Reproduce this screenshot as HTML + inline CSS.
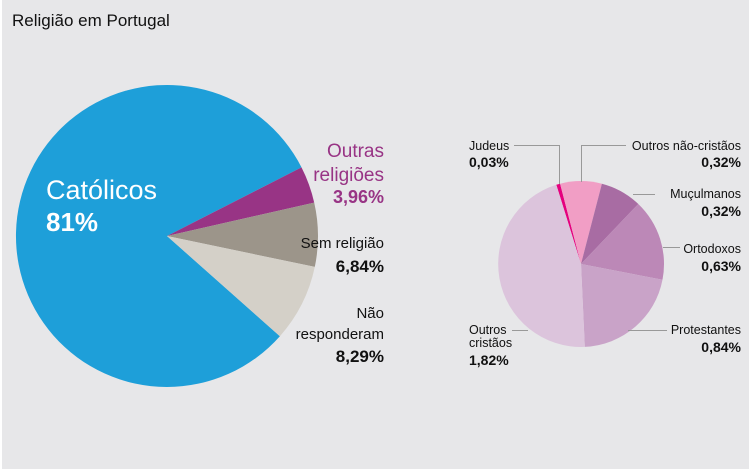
<!DOCTYPE html>
<html><head><meta charset="utf-8"><style>
html,body{margin:0;padding:0;background:#e8e8ea;}
svg{display:block;font-family:"Liberation Sans",sans-serif;}
</style></head><body>
<svg width="749" height="469" viewBox="0 0 749 469" xmlns="http://www.w3.org/2000/svg">
<rect width="749" height="469" fill="#e7e7e9"/>
<rect x="0" y="0" width="2" height="469" fill="#fff"/>
<text x="12" y="26" font-size="17" fill="#111">Religião em Portugal</text>

<g>
<path d="M167,236 L301.5,167.4 A151,151 0 1,0 279.9,336.2 Z" fill="#1e9fd9"/>
<path d="M167,236 L301.5,167.4 A151,151 0 0,1 314.2,202.6 Z" fill="#983485"/>
<path d="M167,236 L314.2,202.6 A151,151 0 0,1 314.8,266.9 Z" fill="#9c958a"/>
<path d="M167,236 L314.8,266.9 A151,151 0 0,1 279.9,336.2 Z" fill="#d4d0c8"/>
</g>
<text x="46" y="199" font-size="27" fill="#fff">Católicos</text>
<text x="46" y="231" font-size="26" font-weight="bold" fill="#fff">81%</text>

<g text-anchor="end">
<text x="384" y="157" font-size="19" fill="#983485">Outras</text>
<text x="384" y="181" font-size="19" fill="#983485">religiões</text>
<text x="384" y="203" font-size="18" font-weight="bold" fill="#983485">3,96%</text>
<text x="384" y="248" font-size="15" fill="#111">Sem religião</text>
<text x="384" y="272" font-size="17" font-weight="bold" fill="#111">6,84%</text>
<text x="384" y="318" font-size="15" fill="#111">Não</text>
<text x="384" y="339" font-size="15" fill="#111">responderam</text>
<text x="384" y="362" font-size="17" font-weight="bold" fill="#111">8,29%</text>
</g>

<g>
<path d="M581,264 L556.3,184.8 A83,83 0 0,1 560.1,183.7 Z" fill="#e5007e"/>
<path d="M581,264 L560.1,183.7 A83,83 0 0,1 601.9,183.7 Z" fill="#f19ec5"/>
<path d="M581,264 L601.9,183.7 A83,83 0 0,1 638.3,204.0 Z" fill="#a86ca3"/>
<path d="M581,264 L638.3,204.0 A83,83 0 0,1 662.5,279.8 Z" fill="#bc88b7"/>
<path d="M581,264 L662.5,279.8 A83,83 0 0,1 584.8,346.9 Z" fill="#c9a3c8"/>
<path d="M581,264 L584.8,346.9 A83,83 0 0,1 556.3,184.8 Z" fill="#dcc4dc"/>
</g>
<g stroke="#999" stroke-width="1" fill="none">
<polyline points="514,145.5 559.5,145.5 559.5,184"/>
<polyline points="581.5,182 581.5,145.5 626,145.5"/>
<line x1="633" y1="194.5" x2="655" y2="194.5"/>
<line x1="663" y1="247.5" x2="680" y2="247.5"/>
<line x1="628" y1="330.5" x2="667" y2="330.5"/>
<line x1="512" y1="330.5" x2="528" y2="330.5"/>
</g>
<g font-size="12.5" fill="#111">
<text x="469" y="150">Judeus</text>
<text x="469" y="167" font-size="14" font-weight="bold">0,03%</text>
<text x="469" y="334">Outros</text>
<text x="469" y="347">cristãos</text>
<text x="469" y="365" font-size="14" font-weight="bold">1,82%</text>
<g text-anchor="end">
<text x="741" y="150">Outros não-cristãos</text>
<text x="741" y="167" font-size="14" font-weight="bold">0,32%</text>
<text x="741" y="198">Muçulmanos</text>
<text x="741" y="216" font-size="14" font-weight="bold">0,32%</text>
<text x="741" y="253">Ortodoxos</text>
<text x="741" y="271" font-size="14" font-weight="bold">0,63%</text>
<text x="741" y="334">Protestantes</text>
<text x="741" y="352" font-size="14" font-weight="bold">0,84%</text>
</g>
</g>
</svg>
</body></html>
